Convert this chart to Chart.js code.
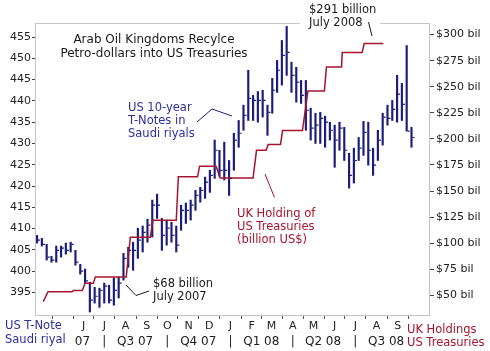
<!DOCTYPE html>
<html>
<head>
<meta charset="utf-8">
<script src="https://cdn.jsdelivr.net/npm/chart.js@4.4.1/dist/chart.umd.min.js"></script>
<style>
  body { margin: 0; background: #fff; }
  canvas { display: block; }
</style>
</head>
<body>
<canvas id="chart" width="490" height="351"></canvas>
<script>
// weekly bars: US 10-year T-Note priced in Saudi riyals
const weekDates = [
  '2007-03-25','2007-04-01','2007-04-08','2007-04-15','2007-04-22','2007-04-29','2007-05-06','2007-05-13','2007-05-20','2007-05-27',
  '2007-06-03','2007-06-10','2007-06-17','2007-06-24','2007-07-01','2007-07-08','2007-07-15','2007-07-22','2007-07-29','2007-08-05',
  '2007-08-12','2007-08-19','2007-08-26','2007-09-02','2007-09-09','2007-09-16','2007-09-23','2007-09-30','2007-10-07','2007-10-14',
  '2007-10-21','2007-10-28','2007-11-04','2007-11-11','2007-11-18','2007-11-25','2007-12-02','2007-12-09','2007-12-16','2007-12-23',
  '2007-12-30','2008-01-06','2008-01-13','2008-01-20','2008-01-27','2008-02-03','2008-02-10','2008-02-17','2008-02-24','2008-03-02',
  '2008-03-09','2008-03-16','2008-03-23','2008-03-30','2008-04-06','2008-04-13','2008-04-20','2008-04-27','2008-05-04','2008-05-11',
  '2008-05-18','2008-05-25','2008-06-01','2008-06-08','2008-06-15','2008-06-22','2008-06-29','2008-07-06','2008-07-13','2008-07-20',
  '2008-07-27','2008-08-03','2008-08-10','2008-08-17','2008-08-24','2008-08-31','2008-09-07','2008-09-14','2008-09-21'
];
const highs = [
  408.4, 407.7, 406.3, 403.5, 405.9, 405.9, 406.6, 406.8, 404.9, 401.6,
  400.5, 397.4, 396.2, 396.0, 397.2, 396.7, 398.4, 398.6, 404.2, 405.6,
  406.8, 410.1, 410.6, 412.2, 416.7, 418.1, 412.4, 412.0, 411.5, 410.6,
  415.5, 416.0, 416.7, 419.0, 419.7, 422.1, 423.7, 430.8, 428.4, 430.3,
  426.0, 432.4, 435.4, 439.0, 447.2, 441.3, 442.2, 442.5, 439.0, 445.3,
  449.5, 454.2, 457.5, 449.1, 447.9, 444.8, 444.8, 438.3, 437.1, 437.3,
  436.4, 435.0, 434.3, 435.0, 433.8, 427.7, 428.9, 431.4, 435.2, 435.0,
  428.9, 433.1, 437.1, 439.0, 440.1, 446.0, 444.1, 453.0, 433.8
];
const lows = [
  406.6, 405.9, 402.6, 402.1, 402.1, 403.3, 404.0, 404.5, 401.4, 399.3,
  397.2, 390.4, 392.5, 391.5, 392.5, 392.5, 392.0, 393.7, 397.9, 400.9,
  400.2, 403.0, 404.5, 406.8, 408.0, 412.4, 404.9, 406.1, 406.8, 404.5,
  409.6, 411.2, 412.0, 414.3, 416.2, 417.1, 418.5, 421.8, 422.3, 421.4,
  417.8, 423.7, 429.1, 433.1, 435.4, 435.4, 435.0, 436.2, 431.9, 437.1,
  442.0, 443.7, 446.0, 442.0, 439.7, 439.4, 433.1, 430.8, 430.0, 430.0,
  429.1, 430.8, 424.4, 428.4, 426.0, 419.5, 420.7, 426.0, 427.2, 424.9,
  422.5, 426.0, 429.6, 434.3, 435.4, 435.0, 435.4, 432.9, 429.1
];
const closes = [
  407.3, 406.3, 403.3, 402.6, 404.9, 405.4, 404.9, 406.3, 402.1, 400.0,
  397.7, 393.2, 394.1, 395.5, 396.5, 393.2, 395.5, 397.2, 403.0, 404.9,
  404.9, 407.3, 409.1, 410.8, 415.5, 415.5, 408.4, 410.1, 408.4, 406.1,
  414.3, 414.3, 415.5, 417.8, 419.0, 420.9, 422.5, 428.4, 423.7, 423.7,
  421.8, 430.8, 432.4, 436.6, 440.6, 440.1, 440.1, 440.1, 437.3, 442.5,
  447.2, 450.7, 451.4, 446.0, 444.4, 441.3, 437.8, 433.6, 434.3, 435.9,
  435.0, 433.1, 430.8, 433.6, 428.4, 422.5, 426.0, 428.9, 432.6, 428.4,
  424.9, 430.8, 436.2, 435.9, 438.0, 441.6, 439.2, 432.9, 431.4
];

// UK holdings of US Treasuries (billion US$), step line
const ukDates = [
  '2007-04-03','2007-04-10','2007-05-15','2007-05-17','2007-05-30','2007-06-03','2007-06-15','2007-06-18',
  '2007-08-02','2007-08-08','2007-09-06','2007-09-10','2007-10-14','2007-10-17','2007-11-14','2007-11-17',
  '2007-12-11','2007-12-17','2008-02-03','2008-02-08','2008-02-22','2008-02-25','2008-03-14','2008-03-17',
  '2008-04-15','2008-04-23','2008-05-17','2008-05-20','2008-06-11','2008-06-12','2008-07-11','2008-07-14','2008-08-11'
];
const ukValues = [
  43.9, 53.4, 53.4, 54.5, 54.5, 61.5, 61.5, 67.5,
  67.5, 105.6, 105.6, 122, 122, 163.6, 163.6, 173.8,
  173.8, 162.5, 162.5, 189, 189, 194.6, 194.6, 208,
  208, 246, 246, 269, 269, 282.7, 282.7, 291.4, 291.4
];

// axis ticks
const leftTicks = [395, 400, 405, 410, 415, 420, 425, 430, 435, 440, 445, 450, 455];
const rightTicks = [50, 75, 100, 125, 150, 175, 200, 225, 250, 275, 300];
const monthDates = ['2007-04-01','2007-05-01','2007-06-01','2007-07-01','2007-08-01','2007-09-01','2007-10-01','2007-11-01','2007-12-01',
  '2008-01-01','2008-02-01','2008-03-01','2008-04-01','2008-05-01','2008-06-01','2008-07-01','2008-08-01','2008-09-01'];
const monthLetters = ['', '', 'J', 'J', 'A', 'S', 'O', 'N', 'D', 'J', 'F', 'M', 'A', 'M', 'J', 'J', 'A', 'S'];
const quarterDates = ['2007-05-15','2007-07-01','2007-08-15','2007-10-01','2007-11-15','2008-01-01','2008-02-15','2008-04-01','2008-05-15','2008-07-01','2008-08-15'];
const quarterLabels = ['Q2 07', '|', 'Q3 07', '|', 'Q4 07', '|', 'Q1 08', '|', 'Q2 08', '|', 'Q3 08'];

const dayOf = (s) => {
  const [y, m, d] = s.split('-').map(Number);
  return (Date.UTC(y, m - 1, d) - Date.UTC(2007, 0, 1)) / 86400000;
};

const NAVY = '#1c1c7c';
const RED = '#a8142e';
const TEXT_NAVY = '#2e2e9e';
const FONT = '"DejaVu Sans", Verdana, sans-serif';

Chart.defaults.font.family = FONT;
Chart.defaults.font.size = 11;

function drawLines(ctx, lines, x, y, color, size, lh) {
  ctx.fillStyle = color;
  ctx.font = size + 'px ' + FONT;
  ctx.textBaseline = 'middle';
  lines.forEach((t, k) => ctx.fillText(t, x, y + k * lh));
}

function pointer(ctx, pts, color) {
  ctx.strokeStyle = color;
  ctx.lineWidth = 1;
  ctx.beginPath();
  pts.forEach((p, k) => k ? ctx.lineTo(p[0], p[1]) : ctx.moveTo(p[0], p[1]));
  ctx.stroke();
}

const overlay = {
  id: 'overlay',
  afterDatasetsDraw(chart) {
    const { ctx, scales: { x, y } } = chart;
    // close ticks on the right of each bar
    ctx.save();
    ctx.strokeStyle = NAVY;
    ctx.lineWidth = 1.2;
    ctx.beginPath();
    weekDates.forEach((s, i) => {
      const px = x.getPixelForValue(dayOf(s));
      const py = y.getPixelForValue(closes[i]);
      ctx.moveTo(px + 0.8, py);
      ctx.lineTo(px + 3, py);
    });
    ctx.stroke();
    ctx.restore();
  },
  afterDraw(chart) {
    const { ctx, chartArea: a } = chart;
    ctx.save();
    ctx.strokeStyle = '#c4c4c4';
    ctx.lineWidth = 1;
    ctx.strokeRect(a.left + 0.5, a.top + 0.5, a.right - a.left - 1, a.bottom - a.top);

    ctx.textAlign = 'center';
    drawLines(ctx, ['Arab Oil Kingdoms Recylce', 'Petro-dollars into US Treasuries'], 154, 40, '#1a1a1a', 12, 13.5);

    ctx.textAlign = 'left';
    drawLines(ctx, ['US 10-year', 'T-Notes in', 'Saudi riyals'], 128, 108.5, TEXT_NAVY, 11.5, 12.8);
    pointer(ctx, [[197, 122], [212, 109], [232, 116]], NAVY);

    ctx.fillStyle = '#fff';
    ctx.fillRect(300, 3, 80, 26);
    drawLines(ctx, ['$291 billion', 'July 2008'], 309, 10, '#1a1a1a', 11.5, 13.3);
    pointer(ctx, [[368.5, 22], [372, 36]], '#1a1a1a');

    drawLines(ctx, ['$68 billion', 'July 2007'], 153, 284, '#1a1a1a', 11.5, 13.3);
    pointer(ctx, [[149, 291], [136, 295.5], [126, 285]], '#1a1a1a');

    drawLines(ctx, ['UK Holding of', 'US Treasuries', '(billion US$)'], 237, 214, RED, 11.5, 13);
    pointer(ctx, [[265, 174], [274.5, 197.5]], RED);

    ctx.fillStyle = '#fff';
    ctx.fillRect(0, 333, 74, 16);
    ctx.textAlign = 'left';
    drawLines(ctx, ['US T-Note', 'Saudi riyal'], 5, 326.5, TEXT_NAVY, 11.5, 13.5);
    drawLines(ctx, ['UK Holdings', 'US Treasuries'], 407, 330, RED, 11.5, 12.7);
    ctx.restore();
  }
};

const xMin = dayOf('2007-03-22');
const xMax = dayOf('2008-10-18');

new Chart(document.getElementById('chart'), {
  type: 'bar',
  data: {
    datasets: [
      {
        type: 'line',
        data: ukDates.map((s, i) => ({ x: dayOf(s), y: ukValues[i] })),
        borderColor: RED,
        borderWidth: 1.5,
        pointRadius: 0,
        fill: false,
        tension: 0,
        xAxisID: 'x',
        yAxisID: 'y2',
        order: 0
      },
      {
        type: 'bar',
        data: weekDates.map((s, i) => ({ x: dayOf(s), y: [lows[i], highs[i]] })),
        backgroundColor: NAVY,
        barThickness: 1.5,
        xAxisID: 'x',
        yAxisID: 'y',
        order: 1
      }
    ]
  },
  options: {
    responsive: false,
    animation: false,
    layout: { padding: { top: 23, left: 0, right: 0, bottom: 0 } },
    plugins: { legend: { display: false }, tooltip: { enabled: false } },
    scales: {
      x: {
        type: 'linear', position: 'bottom', min: xMin, max: xMax, offset: false, weight: 0,
        grid: { drawOnChartArea: false, tickLength: 4, color: '#555' },
        border: { display: false },
        afterBuildTicks: (axis) => { axis.ticks = monthDates.map(s => ({ value: dayOf(s) })); },
        ticks: { autoSkip: false, maxRotation: 0, padding: 1, color: '#222', callback: (v, i) => monthLetters[i] },
        afterFit: (axis) => { axis.height = 18; }
      },
      x2: {
        type: 'linear', position: 'bottom', min: xMin, max: xMax, offset: false, weight: 1,
        grid: { display: false, drawTicks: false },
        border: { display: false },
        afterBuildTicks: (axis) => { axis.ticks = quarterDates.map(s => ({ value: dayOf(s) })); },
        ticks: { autoSkip: false, maxRotation: 0, padding: 2, color: '#222', font: { size: 12 }, callback: (v, i) => quarterLabels[i] },
        afterFit: (axis) => { axis.height = 18; }
      },
      y: {
        type: 'linear', position: 'left', min: 389.7, max: 458.3,
        grid: { drawOnChartArea: false, tickLength: 3, color: '#444' },
        border: { display: false },
        afterBuildTicks: (axis) => { axis.ticks = leftTicks.map(v => ({ value: v })); },
        ticks: { padding: 1, color: '#222' },
        afterFit: (axis) => { axis.width = 35; }
      },
      y2: {
        type: 'linear', position: 'right', min: 31.1, max: 311.1,
        grid: { drawOnChartArea: false, tickLength: 4, color: '#444' },
        border: { display: false },
        afterBuildTicks: (axis) => { axis.ticks = rightTicks.map(v => ({ value: v })); },
        ticks: { padding: 2, color: '#222', callback: (v) => '$' + v + ' bil' },
        afterFit: (axis) => { axis.width = 60; }
      }
    }
  },
  plugins: [overlay]
});
</script>
</body>
</html>
